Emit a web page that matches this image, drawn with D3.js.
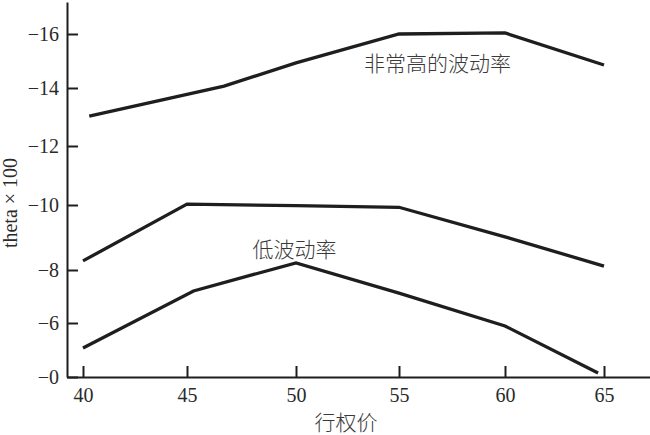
<!DOCTYPE html>
<html>
<head>
<meta charset="utf-8">
<script src="https://cdn.jsdelivr.net/npm/d3@7"></script>
<style>
    html, body { margin: 0; padding: 0; background: #fff; }
    svg { display: block; }
</style>
</head>
<body>
<div id="render-here"></div>
<script>
// strike ticks on the x axis
const strikes = [40, 45, 50, 55, 60, 65];
// y ticks as printed in the source (spacing is not uniform there)
const yTicks = [0, 6, 8, 10, 12, 14, 16];
const yTickLabels = ['−0', '−6', '−8', '−10', '−12', '−14', '−16'];

// very high volatility
const highX = [40.3, 46.7, 50, 55, 60, 65];
const highY = [13.03, 14.07, 14.93, 16.0, 16.04, 14.85];
// middle curve
const midX = [40, 45, 50, 55, 60, 65];
const midY = [8.28, 10.03, 9.98, 9.93, 9.02, 8.12];
// low volatility
const lowX = [40, 45.3, 50, 55, 60, 64.7];
const lowY = [3.22, 7.21, 8.22, 7.13, 5.67, 0.44];

const labels = [
    {text: '非常高的波动率', x: 53.3, y: 14.63},
    {text: '低波动率', x: 48.0, y: 8.4}
];

const W = 650, H = 435;
const serif = '"Liberation Serif", "Times New Roman", "DejaVu Serif", serif';
const cjk = '"Noto Sans CJK SC", "Noto Sans CJK JP", sans-serif';

// the printed axes are hand drawn, so both scales are piecewise
const xScale = d3.scaleLinear()
    .domain([39.2, ...strikes, 67.2])
    .range([67, 83, 187, 296, 399, 505, 604, 650]);
const yScale = d3.scaleLinear()
    .domain([...yTicks, 17.2])
    .range([377, 323, 270, 205, 146, 88, 34, 2]);

const svg = d3.select('#render-here').append('svg')
    .attr('width', W)
    .attr('height', H);

const line = d3.line()
    .x(d => xScale(d[0]))
    .y(d => yScale(d[1]));

[[highX, highY], [midX, midY], [lowX, lowY]].forEach(([xs, ys]) => {
    svg.append('path')
        .datum(xs.map((x, i) => [x, ys[i]]))
        .attr('d', line)
        .attr('fill', 'none')
        .attr('stroke', '#1e1e1e')
        .attr('stroke-width', 3.3)
        .attr('stroke-linejoin', 'miter');
});

const xAxis = svg.append('g')
    .attr('transform', `translate(0,${yScale(0)})`)
    .call(d3.axisBottom(xScale)
        .tickValues(strikes)
        .tickSize(-11)
        .tickSizeOuter(0)
        .tickPadding(11));

const yAxis = svg.append('g')
    .attr('transform', `translate(${xScale(39.2)},0)`)
    .call(d3.axisLeft(yScale)
        .tickValues(yTicks)
        .tickFormat((d, i) => yTickLabels[i])
        .tickSize(-11)
        .tickSizeOuter(0)
        .tickPadding(8));

[xAxis, yAxis].forEach(ax => {
    ax.attr('font-family', null).attr('font-size', null);
    ax.selectAll('path, line')
        .attr('stroke', '#1e1e1e')
        .attr('stroke-width', 2);
    ax.selectAll('text')
        .style('font-family', serif)
        .style('font-size', '20px')
        .style('fill', '#2a2a2a');
});

svg.selectAll('text.note')
    .data(labels)
    .enter().append('text')
        .attr('class', 'note')
        .attr('x', d => xScale(d.x))
        .attr('y', d => yScale(d.y))
        .style('font-family', cjk)
        .style('font-size', '21px')
        .style('font-weight', 300)
        .style('fill', '#3a3a3a')
        .text(d => d.text);

svg.append('text')
    .attr('x', 346)
    .attr('y', 430)
    .attr('text-anchor', 'middle')
    .style('font-family', cjk)
    .style('font-size', '21px')
    .style('font-weight', 300)
    .style('fill', '#3a3a3a')
    .text('行权价');

svg.append('text')
    .attr('transform', 'translate(17,203) rotate(-90)')
    .attr('text-anchor', 'middle')
    .style('font-family', serif)
    .style('font-size', '20px')
    .style('fill', '#2a2a2a')
    .text('theta × 100');
</script>
</body>
</html>
